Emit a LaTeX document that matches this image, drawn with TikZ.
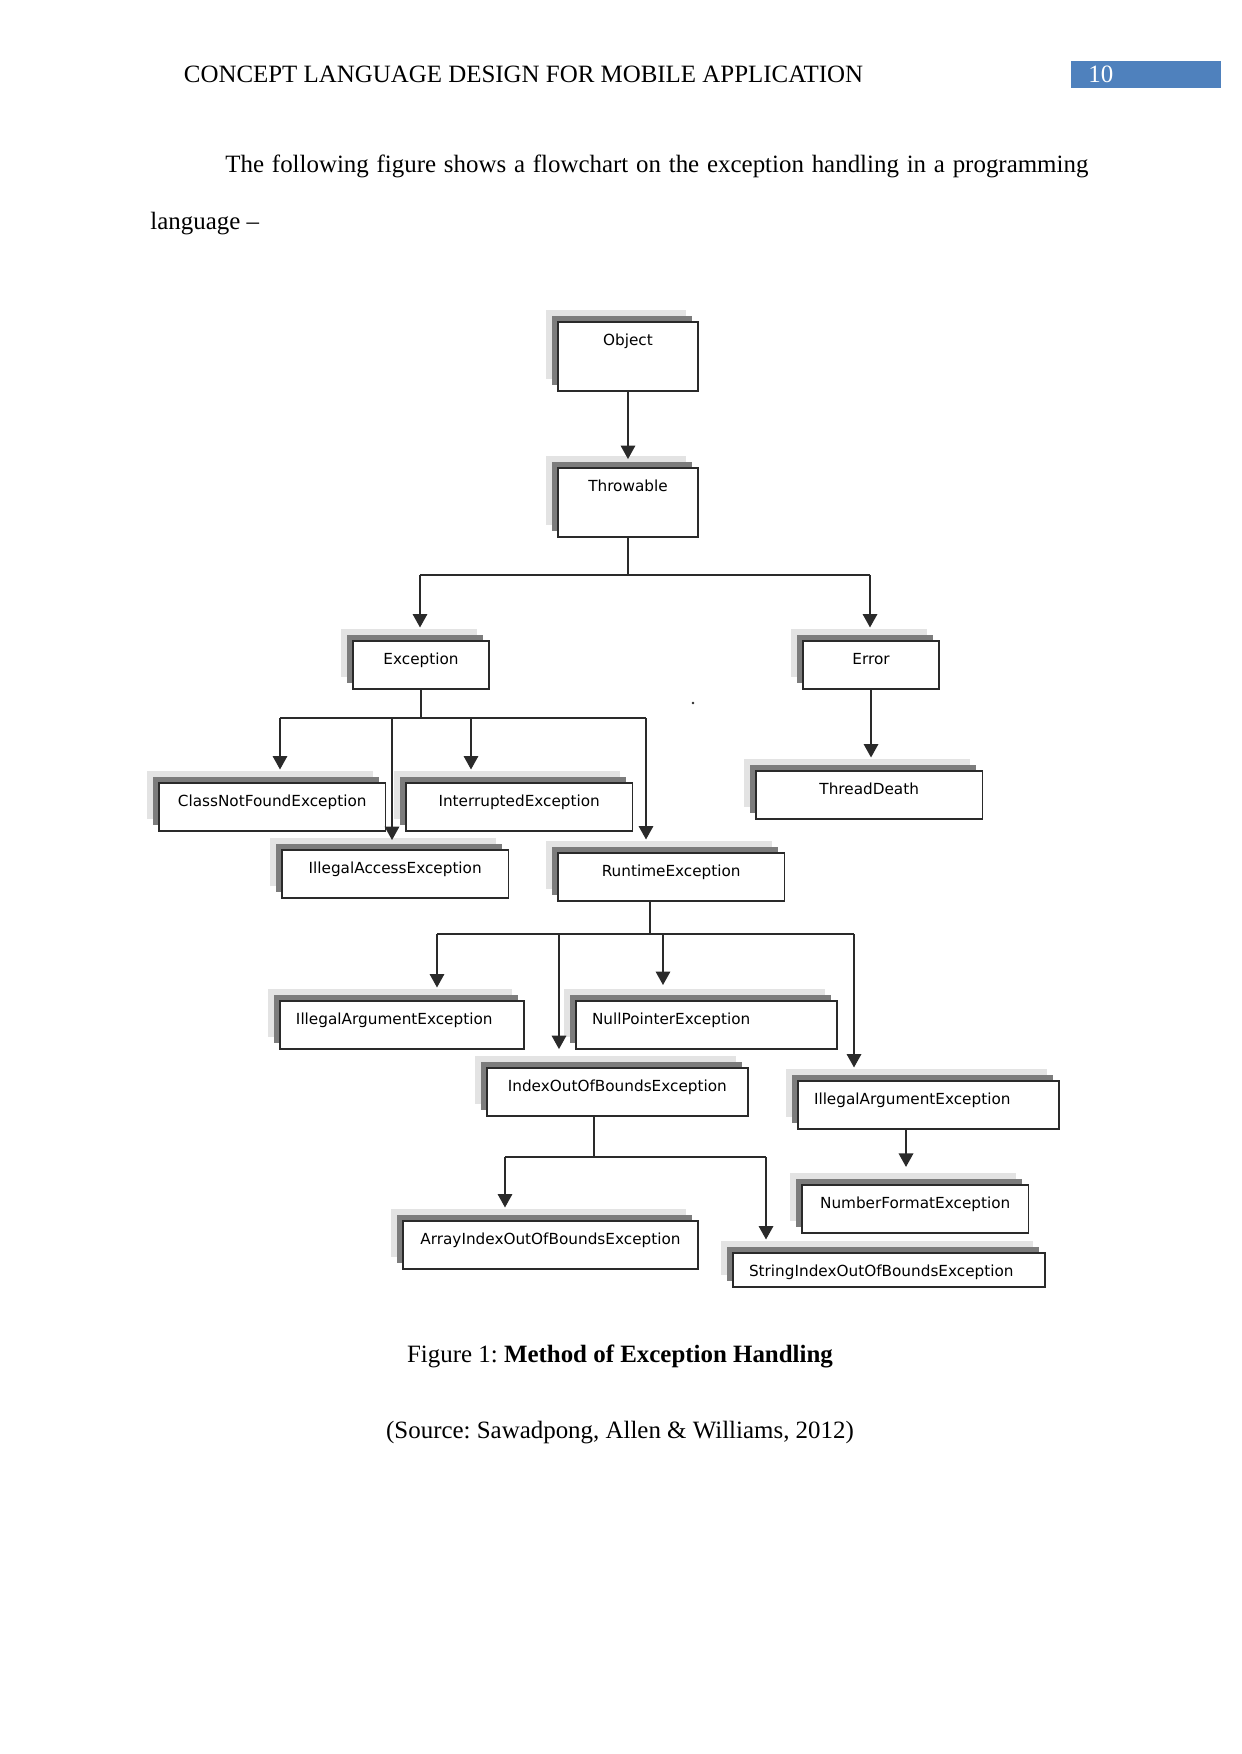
\documentclass[tikz,border=0pt]{standalone}
\usepackage{fontspec}
\setmainfont{Liberation Serif}
\newfontfamily\clsfont{DejaVu Sans}
\usetikzlibrary{arrows.meta,shadows}
\definecolor{hdrblue}{HTML}{4F81BD}
\definecolor{shlight}{HTML}{E3E3E3}
\definecolor{shdark}{HTML}{7C7C7C}
\definecolor{boxline}{HTML}{2A2A2A}
\frenchspacing

\begin{document}
\begin{tikzpicture}[x=0.48147pt,y=-0.48147pt,>={Triangle[length=6.5pt,width=7pt]},
  cls/.style={draw=boxline,fill=white,line width=0.8pt,anchor=north west,outer sep=0pt,
    inner xsep=0pt,inner ysep=0pt,minimum width=#1,text height=11.3pt,text depth=11.8pt,
    font=\clsfont\fontsize{7.35}{8.8}\selectfont,
    general shadow={fill=shlight,shadow xshift=-5.78pt,shadow yshift=5.78pt},
    general shadow={fill=shdark,shadow xshift=-2.89pt,shadow yshift=2.89pt}},
  lcls/.style 2 args={cls=#1,inner xsep=7.7pt,text width=#2,align=left},
  arr/.style={->,line width=0.8pt,draw=boxline,shorten >=6.5pt},
  bus/.style={line width=0.8pt,draw=boxline},
  txt/.style={inner sep=0pt,font=\fontsize{12}{14}\selectfont}]
  \useasboundingbox (0,0) rectangle (1241,1754);

  % page header and text
  \node[txt,anchor=base west] (hdr) at (183.5,83) {CONCEPT LANGUAGE DESIGN FOR MOBILE APPLICATION};
  \fill[hdrblue] (1071,61) rectangle (1221,88.3);
  \node[txt,anchor=base west,text=white] (pgno) at (1088,83) {10};
  \node[txt,anchor=base west] (line1) at (225,173)
    {\makebox[415.5pt][s]{The following figure shows a flowchart on the exception handling in a programming}};
  \node[txt,anchor=base west] (line2) at (150,230) {language \textendash};

  % class boxes
  \node[cls=67.4pt,text depth=21.9pt] (obj) at (558,322) {Object};
  \node[cls=67.4pt,text depth=21.9pt] (thr) at (558,468) {Throwable};
  \node[cls=65.5pt] (exc) at (353,641) {Exception};
  \node[cls=65.5pt] (err) at (803,641) {Error};
  \node[cls=109pt] (cnf) at (159,783) {ClassNotFoundException};
  \node[cls=109pt] (inte) at (406,783) {InterruptedException};
  \node[cls=109pt] (td) at (756,771) {ThreadDeath};
  \node[cls=109pt] (iae) at (282,850) {IllegalAccessException};
  \node[cls=109pt] (rte) at (558,853) {RuntimeException};
  \node[lcls={117.5pt}{102.1pt}] (iarg1) at (280,1001) {IllegalArgumentException};
  \node[lcls={125.5pt}{110.1pt}] (npe) at (576,1001) {NullPointerException};
  \node[cls=125.5pt] (ioob) at (487,1068) {IndexOutOfBoundsException};
  \node[lcls={125.5pt}{110.1pt}] (iarg2) at (798,1081) {IllegalArgumentException};
  \node[cls=109pt] (nfe) at (802,1185) {NumberFormatException};
  \node[cls=142pt] (aioob) at (403,1221) {ArrayIndexOutOfBoundsException};
  \node[lcls={150.2pt}{134.8pt},text depth=5.1pt] (sioob) at (733,1253) {StringIndexOutOfBoundsException};

  % bus points
  \coordinate (th-l) at (420,575);
  \coordinate (th-r) at (870,575);
  \coordinate (ex-l) at (280,718);
  \coordinate (ex-a) at (392,718);
  \coordinate (ex-b) at (471,718);
  \coordinate (ex-r) at (646,718);
  \coordinate (rt-s) at (650,934);
  \coordinate (rt-l) at (437,934);
  \coordinate (rt-a) at (559,934);
  \coordinate (rt-b) at (663,934);
  \coordinate (rt-r) at (854,934);
  \coordinate (ia-x) at (906,1150);
  \coordinate (io-s) at (594,1157);
  \coordinate (io-l) at (505,1157);
  \coordinate (io-r) at (766,1157);

  \draw[arr,shorten >=4.3pt] (obj.south) -- (thr.north);
  \draw[bus] (thr.south) -- (thr.south |- th-l);
  \draw[bus] (th-l) -- (th-r);
  \draw[arr] (th-l) -- (th-l |- exc.north);
  \draw[arr] (th-r) -- (th-r |- err.north);
  \draw[arr] (err.south) -- (err.south |- td.north);

  \draw[bus] (exc.south) -- (exc.south |- ex-l);
  \draw[bus] (ex-l) -- (ex-r);
  \draw[arr] (ex-l) -- (ex-l |- cnf.north);
  \draw[arr,shorten >=4.8pt] (ex-a) -- (ex-a |- iae.north);
  \draw[arr] (ex-b) -- (ex-b |- inte.north);
  \draw[arr] (ex-r) -- (ex-r |- rte.north);

  \draw[bus] (rte.south -| rt-s) -- (rt-s);
  \draw[bus] (rt-l) -- (rt-r);
  \draw[arr] (rt-l) -- (rt-l |- iarg1.north);
  \draw[arr,shorten >=9.1pt] (rt-a) -- (rt-a |- ioob.north);
  \draw[arr,shorten >=7.7pt] (rt-b) -- (rt-b |- npe.north);
  \draw[arr] (rt-r) -- (rt-r |- iarg2.north);
  \draw[arr,shorten >=8.7pt] (iarg2.south -| ia-x) -- (ia-x |- nfe.north);

  \draw[bus] (ioob.south -| io-s) -- (io-s);
  \draw[bus] (io-l) -- (io-r);
  \draw[arr] (io-l) -- (io-l |- aioob.north);
  \draw[arr] (io-r) -- (io-r |- sioob.north);

  \fill[boxline] (693,703) circle (0.7pt);

  % caption
  \node[txt,anchor=base] (cap) at (620,1362) {Figure 1: \textbf{Method of Exception Handling}};
  \node[txt,anchor=base] (src) at (620,1438) {(Source: Sawadpong, Allen \& Williams, 2012)};
\end{tikzpicture}
\end{document}
